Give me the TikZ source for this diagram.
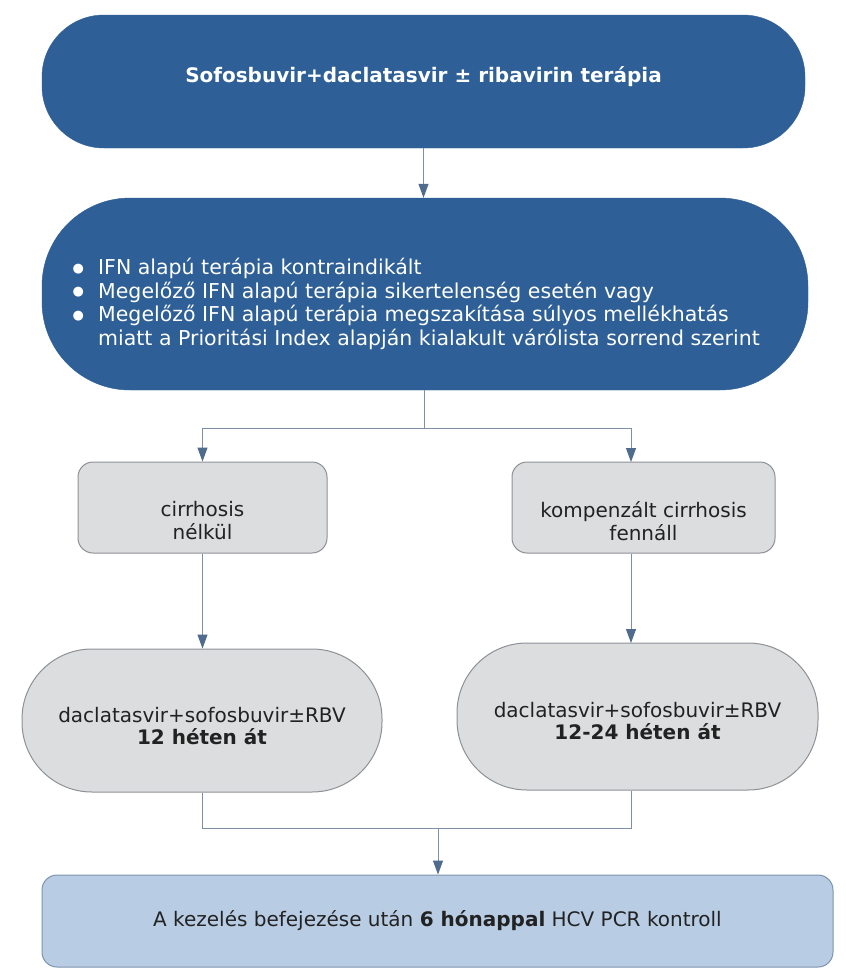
\documentclass[tikz,border=0pt]{standalone}
\usepackage{fontspec}
\setmainfont{DejaVu Sans}
\usetikzlibrary{arrows.meta}
\definecolor{dblue}{HTML}{2E5F96}
\definecolor{gfill}{HTML}{DCDDDF}
\definecolor{gline}{HTML}{8D9196}
\definecolor{lblue}{HTML}{B8CCE4}
\definecolor{lbline}{HTML}{7D94AE}
\definecolor{conn}{HTML}{7F8FA3}
\definecolor{tip}{HTML}{4F6B8D}
\definecolor{dtext}{HTML}{222222}
\tikzset{
  darkbox/.style={fill=dblue, draw=dblue, text=white},
  graybox/.style={fill=gfill, draw=gline, line width=1pt},
  graytext/.style={align=center, text=dtext, inner sep=0pt},
  bluebox/.style={fill=lblue, draw=lbline, line width=1pt, text=dtext, font=\fontsize{20}{23}\selectfont},
  conline/.style={draw=conn, line width=1pt},
  arr/.style={conline, -{Triangle[width=10pt,length=14pt,fill=tip,color=tip]}},
}
\newcommand{\bigbul}{\makebox[12pt]{\raisebox{2.5pt}{\fontsize{13}{13}\selectfont ●}}}
\begin{document}
\begin{tikzpicture}[x=1pt,y=-1pt]
\useasboundingbox (0,0) rectangle (846,978);
\fill[white] (0,0) rectangle (846,978);
\node[darkbox, minimum width=763pt, minimum height=133pt, rounded corners=62pt] (b1) at (423.5,81.5) {};
\node[text=white, inner sep=0pt, font=\bfseries\fontsize{20}{24}\selectfont] (b1t) at (423.5,76.5) {Sofosbuvir+daclatasvir ± ribavirin terápia};
\node[darkbox, minimum width=766pt, minimum height=192pt, rounded corners=88pt] (b2) at (425,294) {};
\node[text=white, font=\fontsize{20.5}{23.5}\selectfont, inner sep=0pt, anchor=west] (b2t) at (72,305.5) {\begin{tabular}{@{}c@{\hspace{14pt}}l@{}}
\bigbul & IFN alapú terápia kontraindikált\\
\bigbul & Megelőző IFN alapú terápia sikertelenség esetén vagy\\
\bigbul & Megelőző IFN alapú terápia megszakítása súlyos mellékhatás\\
 & miatt a Prioritási Index alapján kialakult várólista sorrend szerint
\end{tabular}};
\node[graybox, minimum width=249pt, minimum height=91pt, rounded corners=15pt] (b3l) at (202.5,507.5) {};
\node[graytext, font=\fontsize{20}{23}\selectfont] (b3lt) at (202.5,521) {cirrhosis\\nélkül};
\node[graybox, minimum width=263pt, minimum height=91pt, rounded corners=15pt] (b3r) at (643.5,507.5) {};
\node[graytext, font=\fontsize{20}{23}\selectfont] (b3rt) at (643.5,521) {kompenzált cirrhosis\\fennáll};
\node[graybox, minimum width=360pt, minimum height=143pt, rounded corners=70pt] (b4l) at (202,720.5) {};
\node[graytext, font=\fontsize{20}{22}\selectfont] (b4lt) at (202,726.5) {daclatasvir+sofosbuvir±RBV\\\textbf{12 héten át}};
\node[graybox, minimum width=361pt, minimum height=147pt, rounded corners=70pt] (b4r) at (637.5,716.5) {};
\node[graytext, font=\fontsize{20}{22}\selectfont] (b4rt) at (637.5,721.5) {daclatasvir+sofosbuvir±RBV\\\textbf{12-24 héten át}};
\node[bluebox, minimum width=791pt, minimum height=92pt, rounded corners=15pt] (b5) at (437.5,921) {A kezelés befejezése után \textbf{6 hónappal} HCV PCR kontroll};
\coordinate (j1) at (424,428);
\coordinate (r3) at (631,462);
\coordinate (r4) at (631,643);
\coordinate (j2) at (438,828);
\draw[arr] (b1.south) -- (b1.south |- b2.north);
\draw[conline] (j1 |- b2.south) -- (j1);
\draw[arr] (j1) -| (b3l.north);
\draw[arr] (j1) -| (r3);
\draw[arr] (b3l.south) -- (b3l.south |- b4l.north);
\draw[arr] (b3r.south -| r4) -- (r4);
\draw[conline] (b4l.south) |- (j2);
\draw[conline] (b4r.south -| r4) |- (j2);
\draw[arr] (j2) -- (b5.north -| j2);
\end{tikzpicture}
\end{document}
